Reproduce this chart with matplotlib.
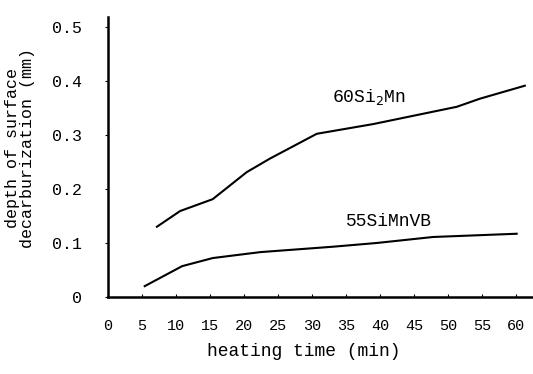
import numpy as np
import matplotlib
matplotlib.use('Agg')
import matplotlib.pyplot as plt

# heating time (min) and depth of decarburization (mm)
tempo_sima = [7.2, 10.6, 15.4, 20.4, 23.8, 30.7, 39.0, 51.3, 54.7, 61.3]
prof_sima = [0.130, 0.159, 0.181, 0.231, 0.256, 0.302, 0.320, 0.352, 0.367, 0.391]

tempo_simnvb = [5.4, 10.9, 15.4, 22.4, 33.1, 39.6, 47.8, 60.1]
prof_simnvb = [0.020, 0.057, 0.072, 0.083, 0.093, 0.100, 0.111, 0.117]

xticks = list(range(0, 61, 5))
yticks = [0, 0.1, 0.2, 0.3, 0.4, 0.5]
ytick_labels = ['0', '0.1', '0.2', '0.3', '0.4', '0.5']

fonte = 'Liberation Mono'

fig = plt.figure(figsize=(5.33, 3.74), dpi=100)
ax = fig.add_axes([0.2026, 0.206, 0.7974, 0.749])

ax.plot(tempo_sima, prof_sima, color='black', lw=1.5)
ax.plot(tempo_simnvb, prof_simnvb, color='black', lw=1.5)

ax.text(33.0, 0.370, '60Si$_2$Mn', fontsize=13, family=fonte, va='center')
ax.text(35.0, 0.139, '55SiMnVB', fontsize=13, family=fonte, va='center')

ax.set_xlim(0, 62.5)
ax.set_ylim(0, 0.5185)

ax.spines['top'].set_visible(False)
ax.spines['right'].set_visible(False)
ax.spines['left'].set_linewidth(1.8)
ax.spines['bottom'].set_linewidth(1.8)

ax.set_xticks(xticks)
ax.set_xticklabels([str(t) for t in xticks], family=fonte, fontsize=11)
ax.set_yticks(yticks)
ax.set_yticklabels(ytick_labels, family=fonte, fontsize=12)
ax.tick_params(axis='x', direction='in', length=2, pad=16)
ax.tick_params(axis='y', direction='out', length=2, pad=17)

ax.set_xlabel('heating time (min)', family=fonte, fontsize=13)
ax.xaxis.set_label_coords(0.461, -0.165)
ax.set_ylabel('depth of surface\ndecarburization (mm)', family=fonte, fontsize=12,
              linespacing=1.0)
ax.yaxis.set_label_coords(-0.172, 0.53)

fig.savefig('out.png', dpi=100)
